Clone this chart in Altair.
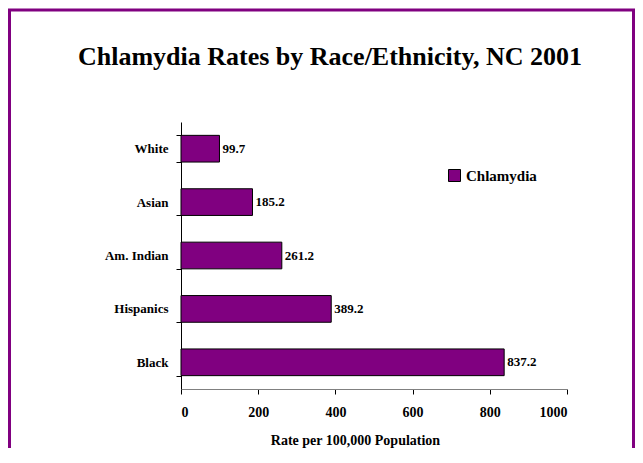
import altair as alt
import pandas as pd

groups = ["White", "Asian", "Am. Indian", "Hispanics", "Black"]
rates = [99.7, 185.2, 261.2, 389.2, 837.2]
series = ["Chlamydia"] * len(groups)
x_ticks = [0, 200, 400, 600, 800, 1000]

df = pd.DataFrame({"group": groups, "rate": rates, "series": series})

FONT = "Liberation Serif"
PURPLE = "#800080"

base = alt.Chart(df)

bars = base.mark_bar(stroke="black", strokeWidth=1).encode(
    y=alt.Y("group:N", sort=groups,
            scale=alt.Scale(paddingInner=0.5, paddingOuter=0.25),
            axis=alt.Axis(title=None, labelFont=FONT, labelFontSize=13, labelFontWeight="bold",
                          labelColor="black", labelPadding=8, tickSize=5, tickColor="black",
                          domainColor="black", tickBand="extent", grid=False)),
    x=alt.X("rate:Q", scale=alt.Scale(domain=[0, 1000], nice=False),
            axis=alt.Axis(values=x_ticks, format="d", title="Rate per 100,000 Population",
                          labelFont=FONT, labelFontSize=14, labelFontWeight="bold",
                          labelColor="black", labelPadding=11, tickSize=5, tickColor="black",
                          domainColor="#808080", grid=False,
                          titleFont=FONT, titleFontSize=14, titleFontWeight="bold",
                          titleColor="black", titleX=174, titleY=55,
                          titleBaseline="alphabetic")),
    color=alt.Color("series:N", scale=alt.Scale(domain=["Chlamydia"], range=[PURPLE]),
                    legend=alt.Legend(title=None, orient="none", legendX=266, legendY=46,
                                      symbolType="square", symbolSize=144,
                                      symbolStrokeColor="black", symbolStrokeWidth=1,
                                      labelFont=FONT, labelFontSize=15, labelFontWeight="bold",
                                      labelColor="black", padding=0)),
)

labels = base.mark_text(align="left", baseline="middle", dx=3, font=FONT, fontSize=13,
                        fontWeight="bold", color="black").encode(
    y=alt.Y("group:N", sort=groups),
    x="rate:Q",
    text=alt.Text("rate:Q", format=".1f"),
)

border = alt.Chart(pd.DataFrame({"k": [0]})).mark_rect(
    filled=False, stroke=PURPLE, strokeWidth=3
).encode(
    x=alt.value(-171.5), x2=alt.value(452.5), y=alt.value(-112), y2=alt.value(400)
)

chart = alt.layer(border, bars, labels).properties(
    width=386, height=267,
    autosize=alt.AutoSizeParams(type="none"),
    padding={"left": 173, "top": 114, "right": 68, "bottom": 59},
    title=alt.TitleParams("Chlamydia Rates by Race/Ethnicity, NC 2001", font=FONT,
                          fontSize=26, fontWeight="bold", color="black", anchor="middle",
                          dx=-44, dy=139, offset=57, baseline="alphabetic"),
).configure_view(strokeWidth=0)

chart.save("out.html", embed_options={"renderer": "svg", "actions": False})
